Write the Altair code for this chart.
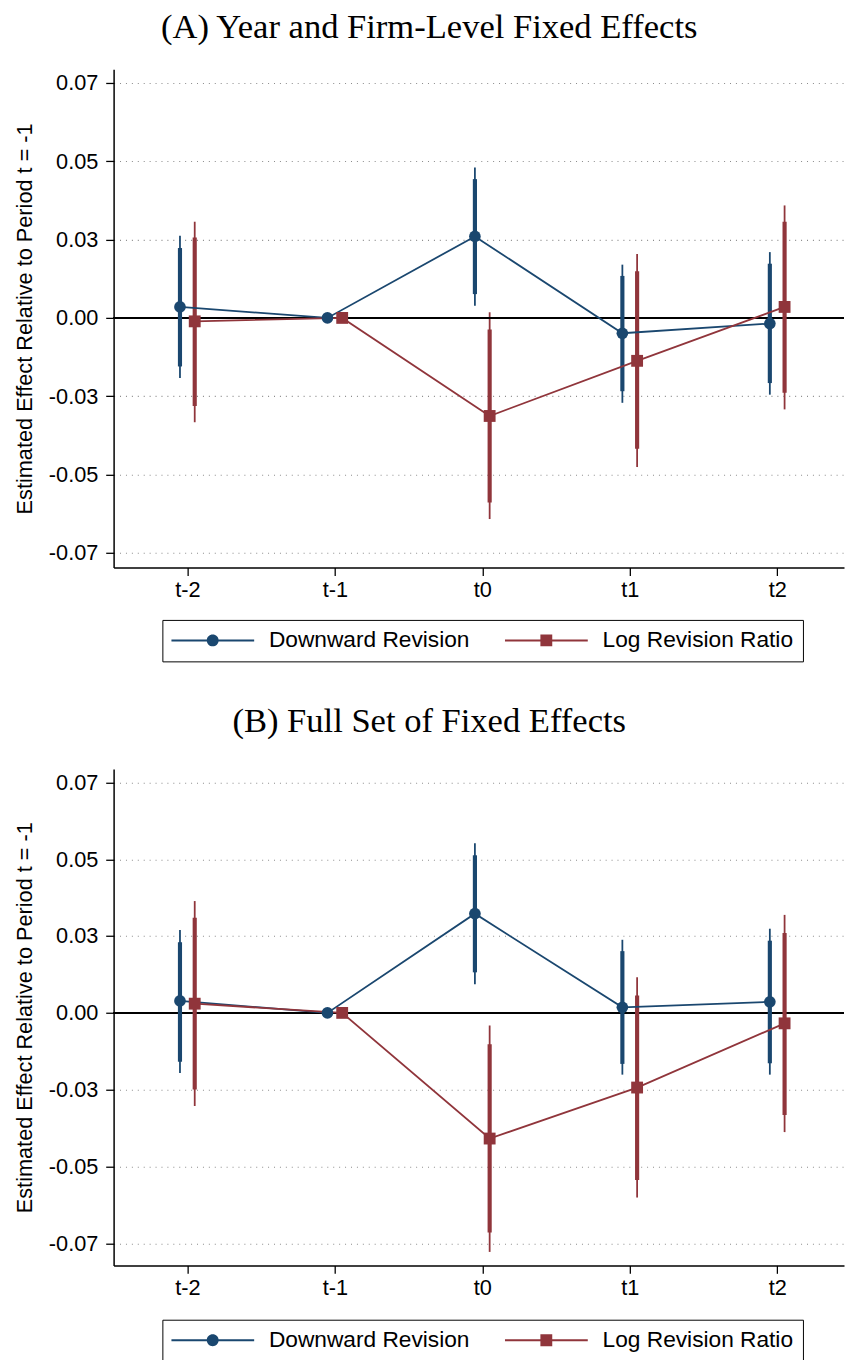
import altair as alt
import pandas as pd

periods = [-2, -1, 0, 1, 2]
period_labels = ["t-2", "t-1", "t0", "t1", "t2"]
series_names = ["Downward Revision", "Log Revision Ratio"]
series_colors = ["#1a476f", "#90353b"]
series_shift = [-0.05, 0.05]
panel_titles = ["(A) Year and Firm-Level Fixed Effects", "(B) Full Set of Fixed Effects"]
y_tick_values = [-0.075, -0.05, -0.025, 0.0, 0.025, 0.05, 0.075]
y_tick_labels = ["-0.07", "-0.05", "-0.03", "0.00", "0.03", "0.05", "0.07"]
y_title = "Estimated Effect Relative to Period t = -1"

# Panel A: Downward Revision
a_dr_coef = [0.0035, 0.0, 0.0260, -0.0049, -0.0018]
a_dr_lo90 = [-0.0155, 0.0, 0.0076, -0.0234, -0.0208]
a_dr_hi90 = [0.0223, 0.0, 0.0443, 0.0134, 0.0173]
a_dr_lo95 = [-0.0192, 0.0, 0.0039, -0.0271, -0.0245]
a_dr_hi95 = [0.0262, 0.0, 0.0480, 0.0170, 0.0210]
# Panel A: Log Revision Ratio
a_lr_coef = [-0.0011, 0.0, -0.0313, -0.0137, 0.0035]
a_lr_lo90 = [-0.0281, 0.0, -0.0589, -0.0418, -0.0239]
a_lr_hi90 = [0.0257, 0.0, -0.0037, 0.0149, 0.0307]
a_lr_lo95 = [-0.0333, 0.0, -0.0642, -0.0476, -0.0292]
a_lr_hi95 = [0.0307, 0.0, 0.0018, 0.0204, 0.0359]
# Panel B: Downward Revision
b_dr_coef = [0.0039, 0.0, 0.0323, 0.0018, 0.0036]
b_dr_lo90 = [-0.0159, 0.0, 0.0132, -0.0166, -0.0164]
b_dr_hi90 = [0.0230, 0.0, 0.0513, 0.0201, 0.0235]
b_dr_lo95 = [-0.0196, 0.0, 0.0093, -0.0201, -0.0201]
b_dr_hi95 = [0.0270, 0.0, 0.0552, 0.0238, 0.0274]
# Panel B: Log Revision Ratio
b_lr_coef = [0.0030, 0.0, -0.0409, -0.0243, -0.0034]
b_lr_lo90 = [-0.0249, 0.0, -0.0715, -0.0544, -0.0332]
b_lr_hi90 = [0.0310, 0.0, -0.0102, 0.0057, 0.0260]
b_lr_lo95 = [-0.0303, 0.0, -0.0778, -0.0601, -0.0388]
b_lr_hi95 = [0.0364, 0.0, -0.0041, 0.0116, 0.0319]

x_domain = [-2.5, 2.453]
y_domains = [[-0.0797, 0.0794], [-0.0822, 0.0794]]
panel_heights = [505, 503]
title_offsets = [25, 30]

panel_data = [
    {
        "Downward Revision": (a_dr_coef, a_dr_lo90, a_dr_hi90, a_dr_lo95, a_dr_hi95),
        "Log Revision Ratio": (a_lr_coef, a_lr_lo90, a_lr_hi90, a_lr_lo95, a_lr_hi95),
    },
    {
        "Downward Revision": (b_dr_coef, b_dr_lo90, b_dr_hi90, b_dr_lo95, b_dr_hi95),
        "Log Revision Ratio": (b_lr_coef, b_lr_lo90, b_lr_hi90, b_lr_lo95, b_lr_hi95),
    },
]

rows = []
for pi, pdict in enumerate(panel_data):
    for si, s in enumerate(series_names):
        coef, lo90, hi90, lo95, hi95 = pdict[s]
        for k, p in enumerate(periods):
            rows.append(dict(panel=pi, series=s, period=p, xpos=p + series_shift[si],
                             coef=coef[k], lo90=lo90[k], hi90=hi90[k],
                             lo95=lo95[k], hi95=hi95[k]))
df = pd.DataFrame(rows)


def label_expr(values, labels):
    expr = "''"
    for v, lab in reversed(list(zip(values, labels))):
        expr = f"abs(datum.value - ({v})) < 0.000001 ? '{lab}' : ({expr})"
    return expr


FONT = "Liberation Sans"
SERIF = "Liberation Serif"

# legend symbols: a line with the marker in its middle (unit coordinates)
circle_sym = ("M-1,-0.024L-0.14,-0.024L-0.14,0.024L-1,0.024Z "
              "M0.14,-0.024L1,-0.024L1,0.024L0.14,0.024Z "
              "M-0.143,0A0.143,0.143 0 1,1 0.143,0A0.143,0.143 0 1,1 -0.143,0Z")
square_sym = ("M-1,-0.024L1,-0.024L1,0.024L-1,0.024Z "
              "M-0.143,-0.143L0.143,-0.143L0.143,0.143L-0.143,0.143Z")


def make_panel(pi):
    src = alt.Chart(df).transform_filter(alt.datum.panel == pi)
    xs = alt.Scale(domain=x_domain, nice=False, zero=False)
    ys = alt.Scale(domain=y_domains[pi], nice=False, zero=False)
    cs = alt.Scale(domain=series_names, range=series_colors)
    col = alt.Color("series:N", scale=cs, legend=None)

    y_axis = alt.Axis(values=y_tick_values, labelExpr=label_expr(y_tick_values, y_tick_labels),
                      title=y_title, titleFont=FONT, titleFontSize=22, titleFontWeight="normal",
                      titleColor="black", titlePadding=12,
                      labelFont=FONT, labelFontSize=22, labelColor="black", labelPadding=8,
                      tickSize=8, tickColor="black", tickWidth=1.3,
                      domainColor="black", domainWidth=1.5,
                      grid=True, gridDash=[1, 5], gridColor="#8a8a8a", gridWidth=1.1)
    x_axis = alt.Axis(values=periods, labelExpr=label_expr(periods, period_labels),
                      title=None, labelFont=FONT, labelFontSize=22, labelColor="black",
                      labelPadding=4, tickSize=8, tickColor="black", tickWidth=1.3,
                      domainColor="black", domainWidth=1.5, grid=False)
    X = alt.X("xpos:Q", scale=xs, axis=x_axis)

    leg = alt.Legend(title=None, orient="none", legendX=49.4, legendY=558,
                     direction="horizontal", columns=2, strokeColor="black",
                     fillColor="white", padding=9, labelFont=FONT, labelFontSize=23,
                     labelColor="black", labelOffset=15, columnPadding=35,
                     labelLimit=400, symbolSize=7056, symbolStrokeWidth=0,
                     symbolOpacity=1, clipHeight=23)
    legend_layer = src.transform_filter("false").mark_point(
        filled=True, size=7056, opacity=1).encode(
        x=X, y=alt.Y("coef:Q", scale=ys, axis=y_axis),
        color=alt.Color("series:N", scale=cs, legend=leg),
        shape=alt.Shape("series:N",
                        scale=alt.Scale(domain=series_names, range=[circle_sym, square_sym]),
                        legend=leg),
    )

    thin = src.mark_rule(strokeWidth=1.8).encode(
        x=X, y=alt.Y("lo95:Q", scale=ys, axis=y_axis), y2="hi95:Q", color=col)
    zero = src.mark_rule(color="black", strokeWidth=1.3).encode(
        y=alt.datum(0.0, scale=ys, axis=y_axis))
    thick = src.mark_rule(strokeWidth=4.2).encode(
        x=X, y=alt.Y("lo90:Q", scale=ys, axis=y_axis), y2="hi90:Q", color=col)
    line = src.mark_line(strokeWidth=1.8).encode(
        x=X, y=alt.Y("coef:Q", scale=ys, axis=y_axis), color=col, order="xpos:Q")
    pts_c = src.transform_filter(alt.datum.series == series_names[0]).mark_point(
        shape="circle", filled=True, size=140, opacity=1).encode(
        x=X, y=alt.Y("coef:Q", scale=ys, axis=y_axis), color=col)
    pts_s = src.transform_filter(alt.datum.series == series_names[1]).mark_point(
        shape="square", filled=True, size=144, opacity=1).encode(
        x=X, y=alt.Y("coef:Q", scale=ys, axis=y_axis), color=col)

    return alt.layer(legend_layer, thin, zero, thick, line, pts_c, pts_s).properties(
        width=740, height=panel_heights[pi],
        title=alt.TitleParams(panel_titles[pi], font=SERIF, fontSize=35, fontWeight="normal",
                              color="black", anchor="middle", frame="bounds",
                              offset=title_offsets[pi]),
    )


chart = alt.vconcat(make_panel(0), make_panel(1), spacing=43).resolve_scale(
    color="independent", shape="independent"
).resolve_legend(color="independent", shape="independent").configure_view(
    stroke=None
).properties(
    padding={"left": 5, "top": -7, "right": 0, "bottom": 0}
)

chart.save("out.html", embed_options={"renderer": "svg", "actions": False})
